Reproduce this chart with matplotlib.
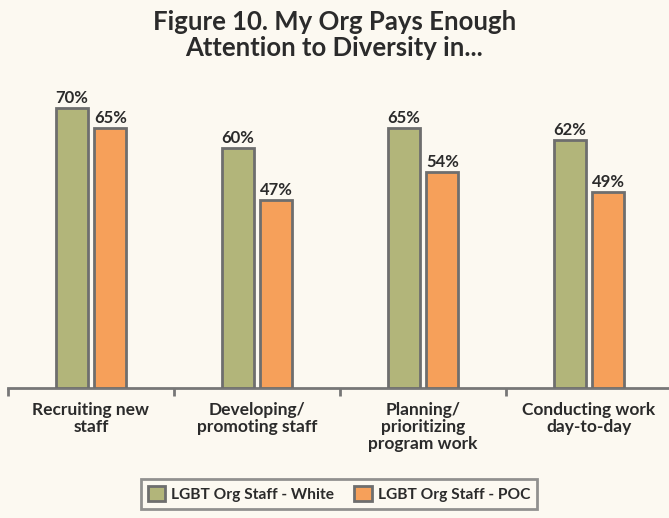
import numpy as np
import matplotlib
matplotlib.use("Agg")
import matplotlib.pyplot as plt
from matplotlib.patches import Patch

categories = ["Recruiting new\nstaff", "Developing/\npromoting staff",
              "Planning/\nprioritizing\nprogram work", "Conducting work\nday-to-day"]
white_vals = [70, 60, 65, 62]
poc_vals = [65, 47, 54, 49]
series_names = ["LGBT Org Staff - White", "LGBT Org Staff - POC"]

BG = "#fcf9f1"
GREEN = "#b2b57a"
ORANGE = "#f6a05a"
EDGE = "#6e6e6e"
TXT = "#2b2b2b"

plt.rcParams["font.family"] = ["Lato", "DejaVu Sans"]

fig = plt.figure(figsize=(6.69, 5.18), dpi=100, facecolor=BG)
W, H = 669, 518
ax = fig.add_axes([8 / W, (H - 388) / H, 664 / W, 308 / H])
ax.set_facecolor("none")

x = np.arange(len(categories))
bw = 0.193
off = 0.117
b1 = ax.bar(x - off, white_vals, bw, color=GREEN, edgecolor=EDGE, linewidth=2, zorder=3)
b2 = ax.bar(x + off, poc_vals, bw, color=ORANGE, edgecolor=EDGE, linewidth=2, zorder=3)

for bars, vals in ((b1, white_vals), (b2, poc_vals)):
    for b, v in zip(bars, vals):
        ax.text(b.get_x() + b.get_width() / 2, v + 0.5, f"{v}%", ha="center", va="bottom",
                fontsize=12, fontweight="bold", color=TXT)

ax.set_xlim(-0.5, 3.5)
ax.set_ylim(0, 77)
ax.set_yticks([])
for s in ("top", "right", "left"):
    ax.spines[s].set_visible(False)
ax.spines["bottom"].set_color("#777777")
ax.spines["bottom"].set_linewidth(2)
ax.set_xticks(np.arange(-0.5, 3.5, 1.0))
ax.set_xticklabels([])
ax.tick_params(axis="x", direction="out", length=6, width=2, color="#777777")

for xi, lab in zip(x, categories):
    ax.text(xi, -3.6, lab, ha="center", va="top", fontsize=12.5, fontweight="bold",
            color=TXT, linespacing=1.05)

fig.text(0.5, 1 - 35 / H, "Figure 10. My Org Pays Enough\nAttention to Diversity in...",
         ha="center", va="center", fontsize=18.5, fontweight="bold", color=TXT, linespacing=1.08)

handles = [Patch(facecolor=GREEN, edgecolor=EDGE, linewidth=2),
           Patch(facecolor=ORANGE, edgecolor=EDGE, linewidth=2)]
leg = fig.legend(handles, series_names, loc="center", bbox_to_anchor=(339 / W, 1 - 494 / H),
                 ncol=2, frameon=True, fancybox=False, fontsize=11.2,
                 handlelength=1.1, handleheight=1.1, handletextpad=0.4, columnspacing=1.3,
                 borderpad=0.45, edgecolor="#777777", facecolor=BG)
leg.get_frame().set_linewidth(2)
for t in leg.get_texts():
    t.set_fontweight("bold")
    t.set_color(TXT)

fig.savefig("out.png", dpi=100, facecolor=BG)
